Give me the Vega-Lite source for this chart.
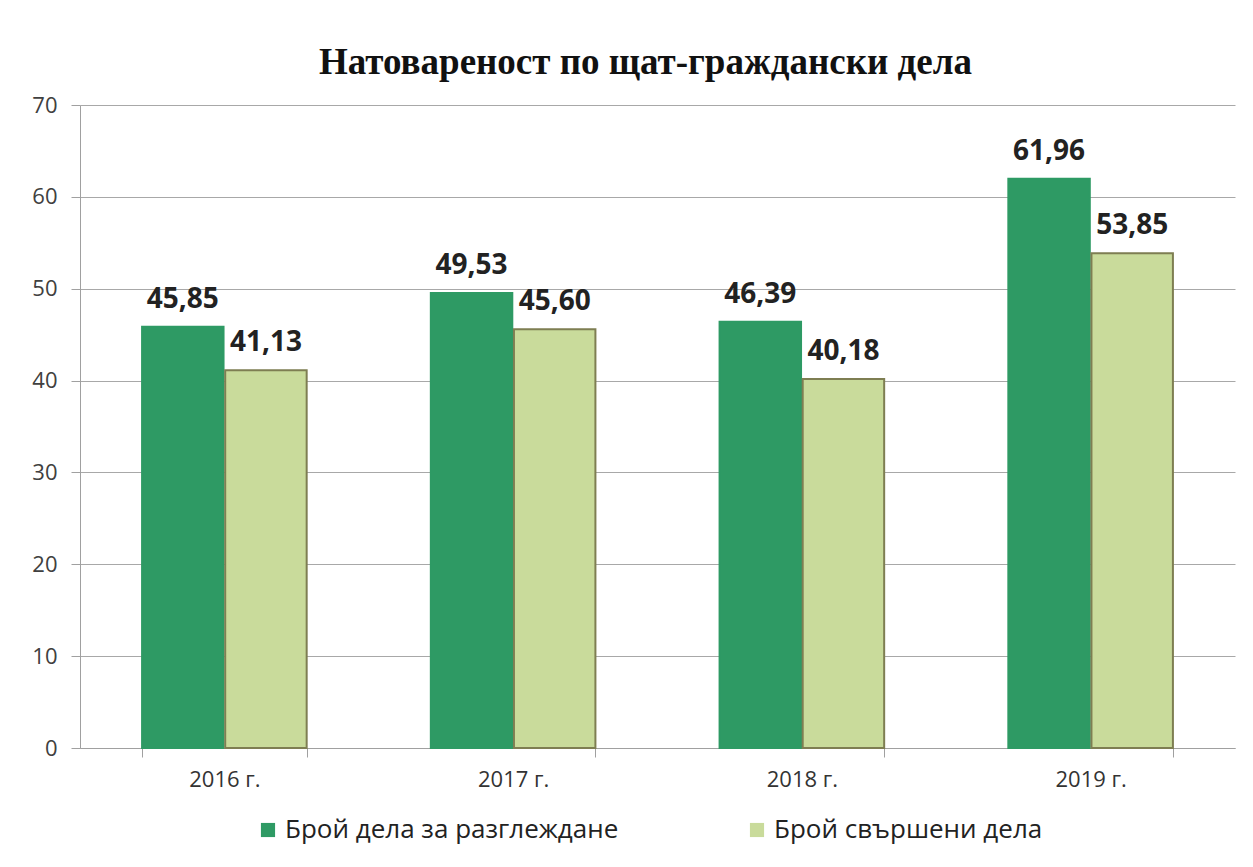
{
  "$schema": "https://vega.github.io/schema/vega-lite/v6.json",
  "autosize": {"type": "none"},
  "width": 1155,
  "height": 643,
  "padding": {"left": 80, "top": 105, "right": 18, "bottom": 119},
  "background": "white",
  "config": {
    "locale": {"number": {"decimal": ",", "thousands": " ", "grouping": [3], "currency": ["", ""]}},
    "view": {"stroke": null},
    "font": "Open Sans"
  },
  "title": {
    "text": "Натовареност по щат-граждански дела",
    "font": "Liberation Serif",
    "fontSize": 37,
    "fontWeight": "bold",
    "color": "#111111",
    "anchor": "middle",
    "dx": -12,
    "offset": 12
  },
  "data": {
    "values": [
      {"year": "2016 г.", "series": "Брой дела за разглеждане", "value": 45.85},
      {"year": "2016 г.", "series": "Брой свършени дела", "value": 41.13},
      {"year": "2017 г.", "series": "Брой дела за разглеждане", "value": 49.53},
      {"year": "2017 г.", "series": "Брой свършени дела", "value": 45.60},
      {"year": "2018 г.", "series": "Брой дела за разглеждане", "value": 46.39},
      {"year": "2018 г.", "series": "Брой свършени дела", "value": 40.18},
      {"year": "2019 г.", "series": "Брой дела за разглеждане", "value": 61.96},
      {"year": "2019 г.", "series": "Брой свършени дела", "value": 53.85}
    ]
  },
  "encoding": {
    "x": {
      "field": "year",
      "type": "nominal",
      "scale": {"paddingInner": 0.43, "paddingOuter": 0.215},
      "axis": {
        "title": null,
        "labelAngle": 0,
        "labelFont": "Open Sans",
        "labelFontSize": 22,
        "labelColor": "#333333",
        "labelPadding": 12,
        "tickBand": "extent",
        "tickSize": 9,
        "tickColor": "#A0A0A0",
        "domainColor": "#A0A0A0",
        "grid": false
      }
    },
    "xOffset": {"field": "series", "type": "nominal", "scale": {"paddingInner": 0.02}},
    "y": {
      "field": "value",
      "type": "quantitative",
      "scale": {"domain": [0, 70], "nice": false},
      "axis": {
        "title": null,
        "values": [0, 10, 20, 30, 40, 50, 60, 70],
        "labelFont": "Open Sans",
        "labelFontSize": 22,
        "labelColor": "#404040",
        "labelPadding": 14,
        "tickSize": 9,
        "tickColor": "#A0A0A0",
        "domainColor": "#A0A0A0",
        "gridColor": "#A8A8A8",
        "gridWidth": 1
      }
    }
  },
  "layer": [
    {
      "mark": {"type": "bar", "strokeWidth": 2},
      "encoding": {
        "color": {
          "field": "series",
          "type": "nominal",
          "scale": {"domain": ["Брой дела за разглеждане", "Брой свършени дела"], "range": ["#2E9A64", "#C9DB9B"]},
          "legend": {
            "title": null,
            "orient": "none",
            "legendX": 175,
            "legendY": 712,
            "direction": "horizontal",
            "symbolType": "square",
            "symbolSize": 200,
            "symbolStrokeWidth": 0,
            "labelFont": "Open Sans",
            "labelFontSize": 26,
            "labelColor": "#222222",
            "labelLimit": 500,
            "columnPadding": 125,
            "labelOffset": 4
          }
        },
        "stroke": {
          "field": "series",
          "type": "nominal",
          "scale": {"domain": ["Брой дела за разглеждане", "Брой свършени дела"], "range": ["#2E9A64", "#7E7E52"]},
          "legend": null
        }
      }
    },
    {
      "mark": {"type": "text", "baseline": "alphabetic", "dy": -19, "fontSize": 28, "fontWeight": "bold", "color": "#222222", "font": "Open Sans"},
      "encoding": {
        "text": {"field": "value", "type": "quantitative", "format": ".2f"}
      }
    }
  ]
}
